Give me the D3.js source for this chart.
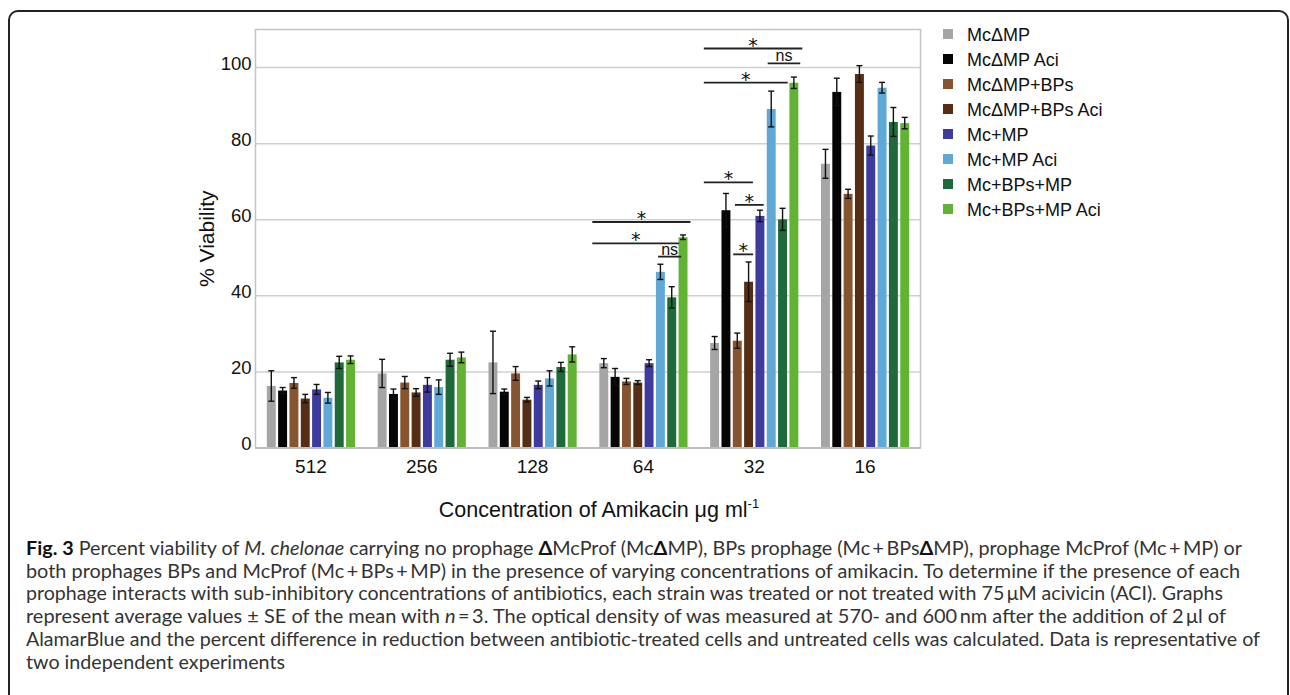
<!DOCTYPE html>
<html>
<head>
<meta charset="utf-8">
<script src="https://cdn.jsdelivr.net/npm/d3@7"></script>
<style>
  body { margin: 0; background: #fff; }
</style>
</head>
<body>
<div id="fig"></div>
<script>
//<<< Data >>>

const concentrations = ["512", "256", "128", "64", "32", "16"];
const seriesNames = ["McΔMP", "McΔMP Aci", "McΔMP+BPs", "McΔMP+BPs Aci", "Mc+MP", "Mc+MP Aci", "Mc+BPs+MP", "Mc+BPs+MP Aci"];
const seriesColors = ["#a5a5a5", "#050505", "#86552f", "#562e16", "#3e3a9e", "#60a8d6", "#1e6a3a", "#62b234"];

// mean % viability per concentration (512 -> 16)
const mcdmp        = [16.3, 19.6, 22.5, 22.3, 27.6, 74.7];
const mcdmpAci     = [15.1, 14.2, 14.8, 18.7, 62.5, 93.6];
const mcdmpBps     = [17.1, 17.2, 19.6, 17.5, 28.2, 66.8];
const mcdmpBpsAci  = [13.0, 14.6, 12.7, 17.2, 43.7, 98.3];
const mcmp         = [15.4, 16.6, 16.6, 22.3, 61.0, 79.5];
const mcmpAci      = [13.2, 16.0, 18.3, 46.3, 89.1, 94.7];
const mcBpsMp      = [22.5, 23.2, 21.3, 39.6, 60.1, 85.7];
const mcBpsMpAci   = [23.2, 23.8, 24.6, 55.4, 96.0, 85.4];

// standard error per concentration
const mcdmpSE       = [4.0, 3.7, 8.2, 1.2, 1.7, 3.8];
const mcdmpAciSE    = [0.8, 1.3, 0.7, 2.2, 4.4, 3.6];
const mcdmpBpsSE    = [1.4, 1.6, 1.8, 0.8, 2.0, 1.2];
const mcdmpBpsAciSE = [1.1, 1.0, 0.6, 0.5, 5.2, 2.2];
const mcmpSE        = [1.3, 1.9, 1.0, 0.9, 1.5, 2.5];
const mcmpAciSE     = [1.4, 1.9, 2.0, 2.0, 4.7, 1.4];
const mcBpsMpSE     = [1.6, 1.7, 1.2, 2.8, 2.9, 3.8];
const mcBpsMpAciSE  = [1.0, 1.4, 2.0, 0.6, 1.5, 1.5];

const yTicks = [0, 20, 40, 60, 80, 100];

// significance brackets: group, start slot, end slot (in bar slots), level, label
const sigGroup = ["64", "64", "64", "32", "32", "32", "32", "32", "32"];
const sigFrom  = [-0.62, -0.62, 5.19, -0.56, 5.08, -0.56, -0.56, 2.19, 2.04];
const sigTo    = [8.05, 7.05, 7.23, 8.14, 7.96, 6.85, 3.78, 4.73, 3.8];
const sigLevel = [59.4, 53.8, 50.3, 105.0, 101.1, 96.05, 69.8, 63.9, 50.9];
const sigLabel = ["*", "*", "ns", "*", "ns", "*", "*", "*", "*"];

const allMeans = [mcdmp, mcdmpAci, mcdmpBps, mcdmpBpsAci, mcmp, mcmpAci, mcBpsMp, mcBpsMpAci];
const allSE = [mcdmpSE, mcdmpAciSE, mcdmpBpsSE, mcdmpBpsAciSE, mcmpSE, mcmpAciSE, mcBpsMpSE, mcBpsMpAciSE];

var rows = [];
concentrations.forEach(function(c, ci){
  seriesNames.forEach(function(s, si){
    rows.push({conc: c, series: s, idx: si, mean: allMeans[si][ci], se: allSE[si][ci]});
  });
});

//<<< Main >>>

const W = 1290, H = 695;
const chartFont = "'Liberation Sans', Arial, sans-serif";

const svg = d3.select("#fig")
  .append("svg")
  .attr("width", W)
  .attr("height", H)
  .style("display", "block");

svg.append("rect").attr("width", W).attr("height", H).attr("fill", "#fff");

//Outer figure frame (runs off the bottom)
svg.append("rect")
  .attr("x", 9).attr("y", 11)
  .attr("width", 1279).attr("height", 720)
  .attr("rx", 9)
  .attr("fill", "none")
  .attr("stroke", "#222")
  .attr("stroke-width", 2);

var plot = {left: 255.5, right: 920.5, top: 29.5, bottom: 448};

var x0 = d3.scaleBand().domain(concentrations).range([plot.left, plot.right]).padding(0);
var x1 = d3.scaleBand().domain(seriesNames).range([0, x0.bandwidth()]).paddingInner(0.21).paddingOuter(1.0);
var y = d3.scaleLinear().domain([0, 110]).range([plot.bottom, plot.top]);

function slotX(g, s){
  return x0(g) + x1(seriesNames[0]) + s * x1.step();
}

//Gridlines
svg.append("g")
  .selectAll("line")
  .data(yTicks.filter(function(d){ return d > 0; }))
  .enter()
  .append("line")
  .attr("x1", plot.left).attr("x2", plot.right)
  .attr("y1", function(d){ return y(d); })
  .attr("y2", function(d){ return y(d); })
  .attr("stroke", "#cfcfcf")
  .attr("stroke-width", 1.5);

//Plot area border
svg.append("rect")
  .attr("x", plot.left).attr("y", plot.top)
  .attr("width", plot.right - plot.left)
  .attr("height", plot.bottom - plot.top)
  .attr("fill", "none")
  .attr("stroke", "#c4c4c4")
  .attr("stroke-width", 1.5);

//Bars
var bars = svg.append("g")
  .selectAll("rect")
  .data(rows)
  .enter()
  .append("rect")
  .attr("x", function(d){ return x0(d.conc) + x1(d.series); })
  .attr("y", function(d){ return y(d.mean); })
  .attr("width", x1.bandwidth())
  .attr("height", function(d){ return y(0) - y(d.mean); })
  .attr("fill", function(d){ return seriesColors[d.idx]; });

//Error bars
var errG = svg.append("g").attr("stroke", "#111").attr("stroke-width", 1.4);
rows.forEach(function(d){
  var cx = x0(d.conc) + x1(d.series) + x1.bandwidth() / 2;
  var yt = y(d.mean + d.se), yb = y(d.mean - d.se);
  errG.append("line").attr("x1", cx).attr("x2", cx).attr("y1", yt).attr("y2", yb);
  errG.append("line").attr("x1", cx - 3).attr("x2", cx + 3).attr("y1", yt).attr("y2", yt);
  errG.append("line").attr("x1", cx - 3).attr("x2", cx + 3).attr("y1", yb).attr("y2", yb);
});

//Bottom axis line
svg.append("line")
  .attr("x1", plot.left).attr("x2", plot.right)
  .attr("y1", y(0)).attr("y2", y(0))
  .attr("stroke", "#bdbdbd")
  .attr("stroke-width", 2);

//Y axis
var yAxis = svg.append("g")
  .attr("transform", "translate(" + plot.left + ",0)")
  .call(d3.axisLeft(y).tickValues(yTicks).tickSize(0).tickPadding(4));
yAxis.select(".domain").remove();
yAxis.selectAll("text")
  .attr("dy", "0.08em")
  .style("font-family", chartFont)
  .style("font-size", "18.5px")
  .attr("fill", "#111");

//X axis
var xAxis = svg.append("g")
  .attr("transform", "translate(0," + y(0) + ")")
  .call(d3.axisBottom(x0).tickSize(0).tickPadding(11.5));
xAxis.select(".domain").remove();
xAxis.selectAll("text")
  .style("font-family", chartFont)
  .style("font-size", "19px")
  .attr("fill", "#111");

//Axis titles
svg.append("text")
  .attr("transform", "translate(214," + ((plot.top + plot.bottom) / 2) + ") rotate(-90)")
  .attr("text-anchor", "middle")
  .style("font-family", chartFont)
  .style("font-size", "21px")
  .attr("fill", "#111")
  .text("% Viability");

var xTitle = svg.append("text")
  .attr("x", (plot.left + plot.right) / 2 + 11)
  .attr("y", 517)
  .attr("text-anchor", "middle")
  .style("font-family", chartFont)
  .style("font-size", "21.5px")
  .attr("fill", "#111");
xTitle.append("tspan").text("Concentration of Amikacin μg ml");
xTitle.append("tspan").attr("dy", -9).style("font-size", "13px").text("-1");

//Significance brackets
var sig = sigGroup.map(function(g, i){
  return {g: g, from: sigFrom[i], to: sigTo[i], level: sigLevel[i], label: sigLabel[i]};
});
var sigG = svg.append("g");
sigG.selectAll("line")
  .data(sig)
  .enter()
  .append("line")
  .attr("x1", function(d){ return slotX(d.g, d.from); })
  .attr("x2", function(d){ return slotX(d.g, d.to); })
  .attr("y1", function(d){ return y(d.level); })
  .attr("y2", function(d){ return y(d.level); })
  .attr("stroke", "#222")
  .attr("stroke-width", 1.8);
sigG.selectAll("text")
  .data(sig)
  .enter()
  .append("text")
  .attr("x", function(d){ return (slotX(d.g, d.from) + slotX(d.g, d.to)) / 2; })
  .attr("y", function(d){ return y(d.level) + (d.label == "ns" ? -2 : 3); })
  .attr("text-anchor", "middle")
  .style("font-family", function(d){ return d.label == "ns" ? chartFont : "'DejaVu Sans', sans-serif"; })
  .style("font-size", function(d){ return d.label == "ns" ? "16px" : "19px"; })
  .attr("fill", "#111")
  .text(function(d){ return d.label; });

//Legend
var legend = svg.append("g")
  .selectAll("g")
  .data(seriesNames)
  .enter()
  .append("g")
  .attr("transform", function(d, i){ return "translate(943," + (34 + i * 25) + ")"; });
legend.append("rect")
  .attr("x", 0).attr("y", -5)
  .attr("width", 10).attr("height", 10)
  .attr("fill", function(d, i){ return seriesColors[i]; });
legend.append("text")
  .attr("x", 24).attr("y", 6.5)
  .style("font-family", chartFont)
  .style("font-size", "18px")
  .attr("fill", "#111")
  .text(function(d){ return d; });

//<<< Caption >>>
const captionFont = "Lato, 'Open Sans', sans-serif";
const captionLines = [
  [["b", "Fig. 3"], ["", " Percent viability of "], ["i", "M. chelonae"], ["", " carrying no prophage "], ["b", "Δ"], ["", "McProf (Mc"], ["b", "Δ"], ["", "MP), BPs prophage (Mc\u2009+\u2009BPs"], ["b", "Δ"], ["", "MP), prophage McProf (Mc\u2009+\u2009MP) or"]],
  [["", "both prophages BPs and McProf (Mc\u2009+\u2009BPs\u2009+\u2009MP) in the presence of varying concentrations of amikacin. To determine if the presence of each"]],
  [["", "prophage interacts with sub-inhibitory concentrations of antibiotics, each strain was treated or not treated with 75\u2009μM acivicin (ACI). Graphs"]],
  [["", "represent average values ± SE of the mean with "], ["i", "n"], ["", "\u2009=\u20093. The optical density of was measured at 570- and 600\u2009nm after the addition of 2\u2009μl of"]],
  [["", "AlamarBlue and the percent difference in reduction between antibiotic-treated cells and untreated cells was calculated. Data is representative of"]],
  [["", "two independent experiments"]]
];
const captionEnds = [1242, 1240, 1223, 1226, 1260, 285];

captionLines.forEach(function(parts, li){
  var t = svg.append("text")
    .attr("x", 26)
    .attr("y", 555 + li * 22.7)
    .attr("textLength", captionEnds[li] - 26)
    .attr("lengthAdjust", "spacingAndGlyphs")
    .style("font-family", captionFont)
    .style("font-size", "18.5px")
    .attr("fill", "#333");
  parts.forEach(function(p){
    var sp = t.append("tspan").text(p[1]);
    if (p[0] == "b") sp.style("font-weight", "bold").attr("fill", "#111");
    if (p[0] == "i") sp.style("font-style", "italic");
  });
});
</script>
</body>
</html>
